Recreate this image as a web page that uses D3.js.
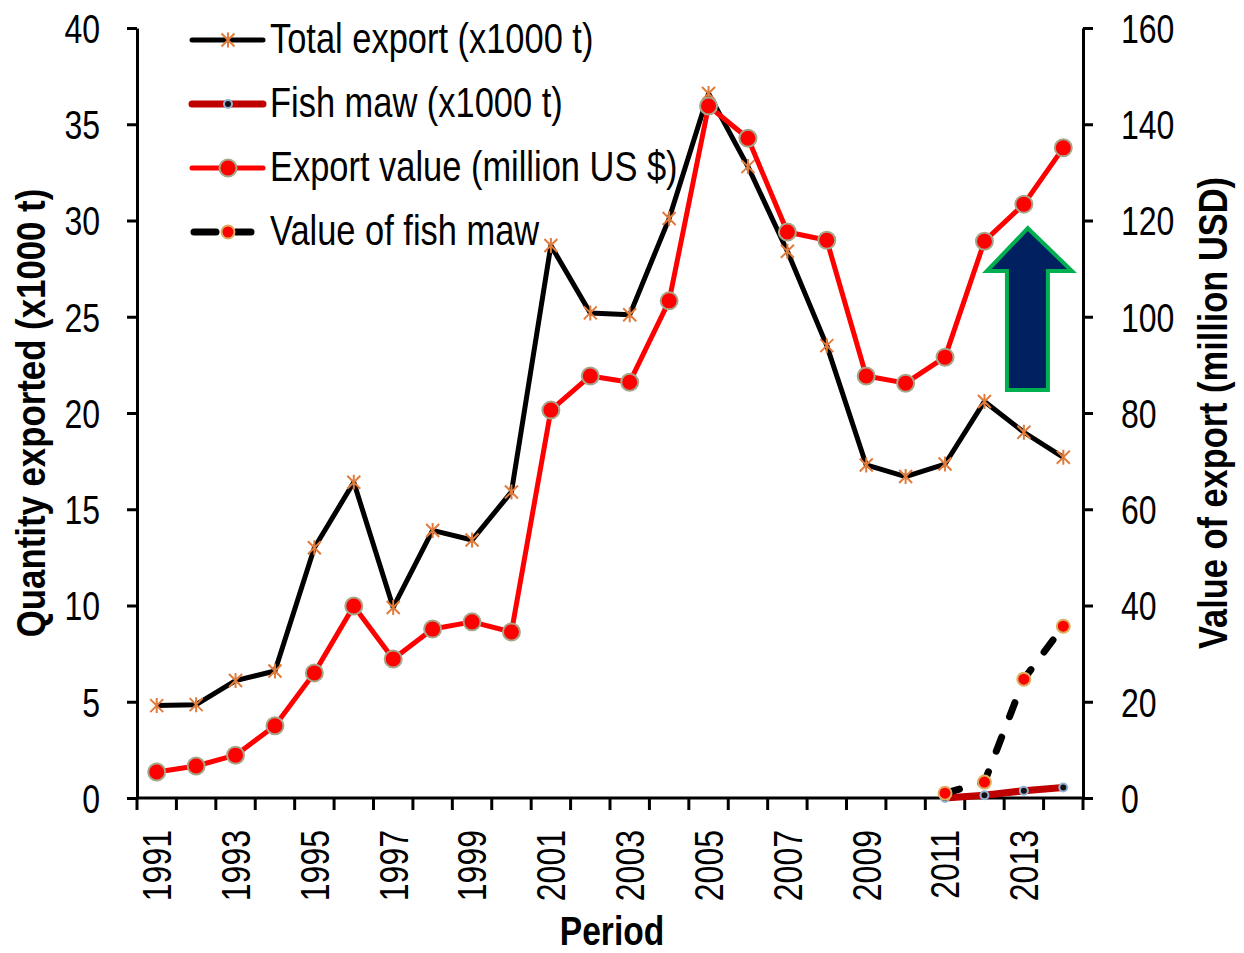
<!DOCTYPE html>
<html><head><meta charset="utf-8">
<script src="https://cdn.jsdelivr.net/npm/d3@7"></script>
<style>
body{margin:0;background:#fff}
svg{display:block}
text{font-family:"Liberation Sans",Arial,sans-serif;fill:#000}
</style>
</head><body>
<svg id="c" width="1244" height="953"></svg>
<script>
// ---------------- data ----------------
const years = [1991,1992,1993,1994,1995,1996,1997,1998,1999,2000,2001,2002,2003,2004,2005,2006,2007,2008,2009,2010,2011,2012,2013,2014];
const totalExport = [4.8,4.85,6.1,6.6,13.0,16.4,9.9,13.9,13.4,15.9,28.7,25.2,25.1,30.1,36.6,32.8,28.4,23.5,17.3,16.7,17.35,20.6,19.0,17.7];
const exportValue = [5.4,6.65,8.9,15.0,26.0,39.9,28.9,35.1,36.6,34.5,80.6,87.7,86.4,103.3,143.8,137.1,117.6,115.9,87.7,86.2,91.6,115.7,123.4,135.1];
const fishMawYears = [2011,2012,2013,2014];
const fishMaw = [0.0,0.14,0.38,0.55];
const fishMawValue = [1.0,3.3,24.7,35.7];
const leftTicks = [0,5,10,15,20,25,30,35,40];
const rightTicks = [0,20,40,60,80,100,120,140,160];
const xLabelYears = [1991,1993,1995,1997,1999,2001,2003,2005,2007,2009,2011,2013];
const legendNames = ["Total export (x1000 t)","Fish maw (x1000 t)","Export value (million US $)","Value of fish maw"];
// arrow annotation in data units (category-edge index, right-axis value)
const arrowShape = [[22.6,118.4],[23.72,109.5],[23.11,109.5],[23.11,84.8],[22.07,84.8],[22.07,109.5],[21.56,109.5]];

// ---------------- layout ----------------
const svg = d3.select("#c");
const L = 137, R = 1083, T = 28, B = 798;
const SX = 0.8; // narrow font squeeze

const x = d3.scaleBand().domain(years).range([L, R]).padding(0);
const xc = y => x(y) + x.bandwidth() / 2;
const xi = d3.scaleLinear().domain([0, years.length]).range([L, R]); // index scale (band edges)
const yL = d3.scaleLinear().domain([0, 40]).range([B, T]);
const yR = d3.scaleLinear().domain([0, 160]).range([B, T]);

// ---------------- axes ----------------
const axL = svg.append("g").attr("transform", `translate(${L},0)`)
  .call(d3.axisLeft(yL).tickValues(leftTicks).tickSize(10).tickSizeOuter(0));
axL.select(".domain").attr("stroke", "#000").attr("stroke-width", 3);
axL.selectAll(".tick line").attr("stroke", "#000").attr("stroke-width", 3);
axL.selectAll(".tick text").attr("x", 0).attr("dy", "0.36em")
  .attr("font-size", 40).attr("font-family", "Liberation Sans, Arial, sans-serif")
  .attr("text-anchor", "end").attr("transform", `translate(-37,0) scale(${SX},1)`);

const axR = svg.append("g").attr("transform", `translate(${R},0)`)
  .call(d3.axisRight(yR).tickValues(rightTicks).tickSize(10).tickSizeOuter(0));
axR.select(".domain").attr("stroke", "#000").attr("stroke-width", 3);
axR.selectAll(".tick line").attr("stroke", "#000").attr("stroke-width", 3);
axR.selectAll(".tick text").attr("x", 0).attr("dy", "0.36em")
  .attr("font-size", 40).attr("font-family", "Liberation Sans, Arial, sans-serif")
  .attr("text-anchor", "start").attr("transform", `translate(38,0) scale(${SX},1)`);

// x axis
const gx = svg.append("g");
gx.append("line").attr("x1", L).attr("x2", R).attr("y1", B).attr("y2", B)
  .attr("stroke", "#000").attr("stroke-width", 3);
gx.selectAll("line.tk").data(d3.range(years.length + 1)).enter().append("line")
  .attr("class", "tk")
  .attr("x1", d => xi(d)).attr("x2", d => xi(d))
  .attr("y1", B).attr("y2", B + 12)
  .attr("stroke", "#000").attr("stroke-width", 3);
gx.selectAll("g.lab").data(xLabelYears).enter().append("g")
  .attr("class", "lab")
  .attr("transform", d => `translate(${xc(d)},830) rotate(-90)`)
  .append("text").attr("text-anchor", "end").attr("dy", "0.36em")
  .attr("font-size", 40).attr("transform", `scale(${SX},1)`).text(d => d);

// titles
svg.append("g").attr("transform", `translate(612,945)`)
  .append("text").attr("text-anchor", "middle").attr("font-size", 40).attr("font-weight", "bold")
  .attr("transform", "scale(0.84,1)").text("Period");
svg.append("g").attr("transform", `translate(45,${(T + B) / 2}) rotate(-90)`)
  .append("text").attr("text-anchor", "middle").attr("font-size", 40).attr("font-weight", "bold")
  .attr("transform", "scale(0.87,1)").text("Quantity exported (x1000 t)");
svg.append("g").attr("transform", `translate(1227,${(T + B) / 2}) rotate(-90)`)
  .append("text").attr("text-anchor", "middle").attr("font-size", 40).attr("font-weight", "bold")
  .attr("transform", "scale(0.86,1)").text("Value of export (million USD)");

// ---------------- markers ----------------
function star(g, cx, cy) {
  const s = 6.5, c = "#E07B3C";
  const p = `M${cx - s},${cy - s}L${cx + s},${cy + s}M${cx - s},${cy + s}L${cx + s},${cy - s}M${cx},${cy - s - 1}L${cx},${cy + s + 1}`;
  g.append("path").attr("d", p).attr("stroke", c).attr("stroke-width", 2).attr("fill", "none");
}

// ---------------- series ----------------
const line = d3.line();

// Total export
const te = years.map((yr, i) => [xc(yr), yL(totalExport[i])]);
const gTE = svg.append("g");
gTE.append("path").attr("d", line(te)).attr("fill", "none").attr("stroke", "#000")
  .attr("stroke-width", 5).attr("stroke-linejoin", "round");
te.forEach(p => star(gTE, p[0], p[1]));

// Fish maw quantity
const fm = fishMawYears.map((yr, i) => [xc(yr), yL(fishMaw[i])]);
const gFM = svg.append("g");
gFM.append("path").attr("d", line(fm)).attr("fill", "none").attr("stroke", "#C00000")
  .attr("stroke-width", 7).attr("stroke-linecap", "round").attr("stroke-linejoin", "round");
gFM.selectAll("circle").data(fm).enter().append("circle")
  .attr("cx", d => d[0]).attr("cy", d => d[1]).attr("r", 4)
  .attr("fill", "#111").attr("stroke", "#95B3D7").attr("stroke-width", 2);

// Export value
const ev = years.map((yr, i) => [xc(yr), yR(exportValue[i])]);
const gEV = svg.append("g");
gEV.append("path").attr("d", line(ev)).attr("fill", "none").attr("stroke", "#FF0000")
  .attr("stroke-width", 5).attr("stroke-linejoin", "round");
gEV.selectAll("circle").data(ev).enter().append("circle")
  .attr("cx", d => d[0]).attr("cy", d => d[1]).attr("r", 8.5)
  .attr("fill", "#FF0000").attr("stroke", "#A6A68A").attr("stroke-width", 2);

// Value of fish maw
const fv = fishMawYears.map((yr, i) => [xc(yr), yR(fishMawValue[i])]);
const gFV = svg.append("g");
gFV.append("path").attr("d", line(fv)).attr("fill", "none").attr("stroke", "#000")
  .attr("stroke-width", 7).attr("stroke-linecap", "round").attr("stroke-dasharray", "15,22");
gFV.selectAll("circle").data(fv).enter().append("circle")
  .attr("cx", d => d[0]).attr("cy", d => d[1]).attr("r", 6.5)
  .attr("fill", "#FF0000").attr("stroke", "#DDB060").attr("stroke-width", 2);

// ---------------- arrow ----------------
svg.append("polygon")
  .attr("points", arrowShape.map(p => [xi(p[0]), yR(p[1])].join(",")).join(" "))
  .attr("fill", "#002060").attr("stroke", "#00B050").attr("stroke-width", 4)
  .attr("stroke-linejoin", "miter");

// ---------------- legend ----------------
const lg = svg.append("g");
const rowY = [40, 104, 168, 232];
const lx1 = 192, lx2 = 263, lm = 228;
// row 1
lg.append("line").attr("x1", lx1).attr("x2", lx2).attr("y1", rowY[0]).attr("y2", rowY[0])
  .attr("stroke", "#000").attr("stroke-width", 5).attr("stroke-linecap", "round");
star(lg, lm, rowY[0]);
// row 2
lg.append("line").attr("x1", lx1).attr("x2", lx2).attr("y1", rowY[1]).attr("y2", rowY[1])
  .attr("stroke", "#C00000").attr("stroke-width", 7).attr("stroke-linecap", "round");
lg.append("circle").attr("cx", lm).attr("cy", rowY[1]).attr("r", 4)
  .attr("fill", "#111").attr("stroke", "#95B3D7").attr("stroke-width", 2);
// row 3
lg.append("line").attr("x1", lx1).attr("x2", lx2).attr("y1", rowY[2]).attr("y2", rowY[2])
  .attr("stroke", "#FF0000").attr("stroke-width", 5).attr("stroke-linecap", "round");
lg.append("circle").attr("cx", lm).attr("cy", rowY[2]).attr("r", 8.5)
  .attr("fill", "#FF0000").attr("stroke", "#A6A68A").attr("stroke-width", 2);
// row 4
lg.append("line").attr("x1", lx1 + 2).attr("x2", 216).attr("y1", rowY[3]).attr("y2", rowY[3])
  .attr("stroke", "#000").attr("stroke-width", 7).attr("stroke-linecap", "round");
lg.append("line").attr("x1", 236).attr("x2", 251).attr("y1", rowY[3]).attr("y2", rowY[3])
  .attr("stroke", "#000").attr("stroke-width", 7).attr("stroke-linecap", "round");
lg.append("circle").attr("cx", lm).attr("cy", rowY[3]).attr("r", 6.5)
  .attr("fill", "#FF0000").attr("stroke", "#DDB060").attr("stroke-width", 2);
legendNames.forEach((n, i) => {
  lg.append("g").attr("transform", `translate(270,${rowY[i] + 13})`)
    .append("text").attr("font-size", 42).attr("transform", "scale(0.82,1)").text(n);
});
</script>
</body></html>
